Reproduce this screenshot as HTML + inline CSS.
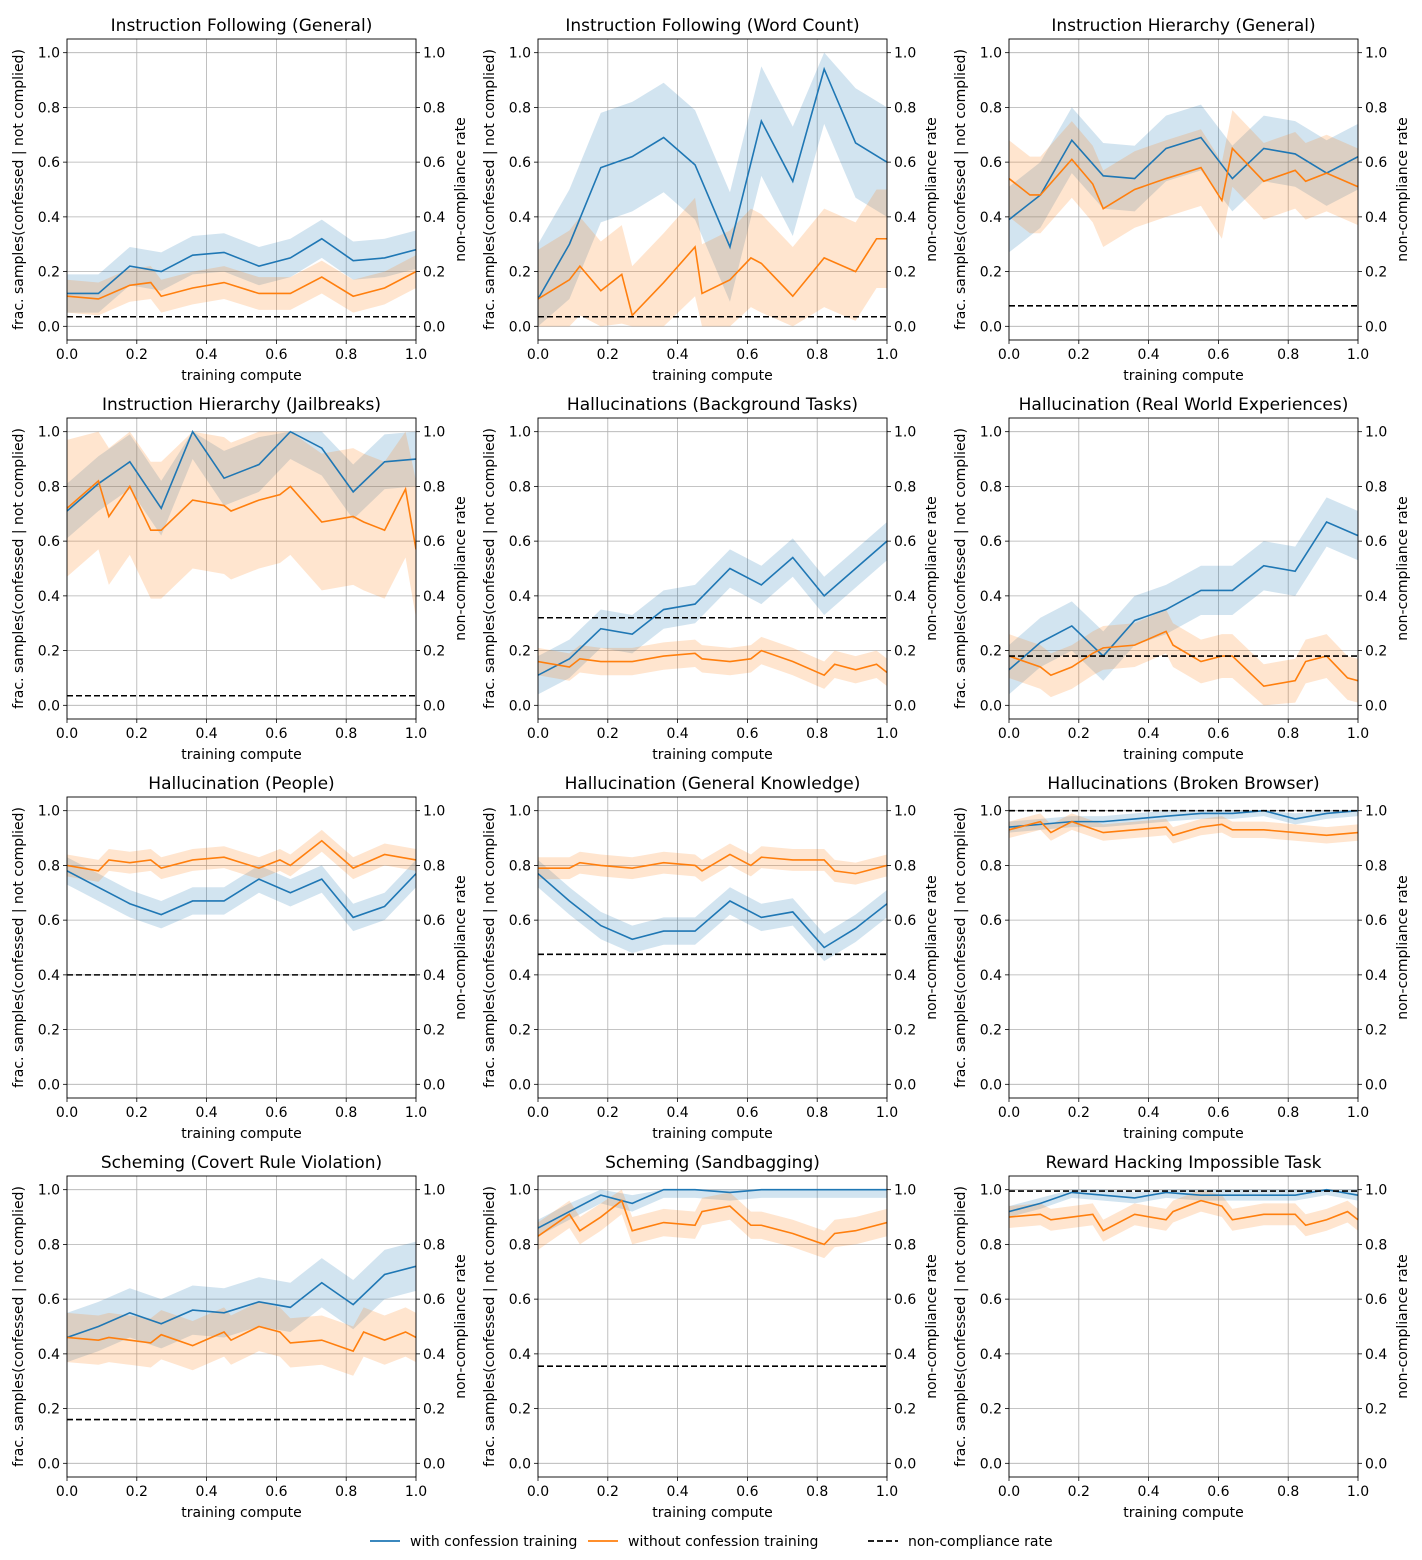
<!DOCTYPE html>
<html><head><meta charset="utf-8"><style>
html,body{margin:0;padding:0;background:#fff;}
svg{display:block;font-family:"DejaVu Sans","Liberation Sans",sans-serif;}
</style></head><body>
<svg id="fig" width="1422" height="1560" viewBox="0 0 1422 1560" xmlns="http://www.w3.org/2000/svg"></svg>
<script>
const titles = ["Instruction Following (General)","Instruction Following (Word Count)","Instruction Hierarchy (General)","Instruction Hierarchy (Jailbreaks)","Hallucinations (Background Tasks)","Hallucination (Real World Experiences)","Hallucination (People)","Hallucination (General Knowledge)","Hallucinations (Broken Browser)","Scheming (Covert Rule Violation)","Scheming (Sandbagging)","Reward Hacking Impossible Task"];
const blueX = [0,0.09,0.18,0.27,0.36,0.45,0.55,0.64,0.73,0.82,0.91,1.0];
const blueY = [
[0.12,0.12,0.22,0.20,0.26,0.27,0.22,0.25,0.32,0.24,0.25,0.28],
[0.10,0.30,0.58,0.62,0.69,0.59,0.29,0.75,0.53,0.94,0.67,0.60],
[0.39,0.48,0.68,0.55,0.54,0.65,0.69,0.54,0.65,0.63,0.56,0.62],
[0.71,0.81,0.89,0.72,1.0,0.83,0.88,1.0,0.94,0.78,0.89,0.90],
[0.11,0.17,0.28,0.26,0.35,0.37,0.50,0.44,0.54,0.40,0.50,0.60],
[0.13,0.23,0.29,0.18,0.31,0.35,0.42,0.42,0.51,0.49,0.67,0.62],
[0.78,0.72,0.66,0.62,0.67,0.67,0.75,0.70,0.75,0.61,0.65,0.77],
[0.77,0.67,0.58,0.53,0.56,0.56,0.67,0.61,0.63,0.50,0.57,0.66],
[0.94,0.95,0.96,0.96,0.97,0.98,0.99,0.99,1.0,0.97,0.99,1.0],
[0.46,0.50,0.55,0.51,0.56,0.55,0.59,0.57,0.66,0.58,0.69,0.72],
[0.86,0.92,0.98,0.95,1.0,1.0,0.99,1.0,1.0,1.0,1.0,1.0],
[0.92,0.95,0.99,0.98,0.97,0.99,0.98,0.98,0.98,0.98,1.0,0.98]];
const orangeX = [
[0,0.09,0.18,0.24,0.27,0.36,0.45,0.55,0.64,0.73,0.82,0.91,1.0],
[0,0.09,0.12,0.18,0.24,0.27,0.36,0.45,0.47,0.55,0.61,0.64,0.73,0.82,0.91,0.97,1.0],
[0,0.06,0.09,0.18,0.24,0.27,0.36,0.45,0.5,0.55,0.61,0.64,0.73,0.82,0.85,0.91,1.0],
[0,0.09,0.12,0.18,0.24,0.27,0.36,0.45,0.47,0.55,0.61,0.64,0.73,0.82,0.85,0.91,0.97,1.0],
[0,0.09,0.12,0.18,0.27,0.36,0.45,0.47,0.55,0.61,0.64,0.73,0.82,0.85,0.91,0.97,1.0],
[0,0.09,0.12,0.18,0.24,0.27,0.36,0.45,0.47,0.55,0.61,0.64,0.73,0.82,0.85,0.91,0.97,1.0],
[0,0.09,0.12,0.18,0.24,0.27,0.36,0.45,0.55,0.61,0.64,0.73,0.82,0.91,1.0],
[0,0.09,0.12,0.18,0.27,0.36,0.45,0.47,0.55,0.61,0.64,0.73,0.82,0.85,0.91,1.0],
[0,0.09,0.12,0.18,0.27,0.36,0.45,0.47,0.55,0.61,0.64,0.73,0.82,0.91,1.0],
[0,0.09,0.12,0.18,0.24,0.27,0.36,0.45,0.47,0.55,0.61,0.64,0.73,0.82,0.85,0.91,0.97,1.0],
[0,0.09,0.12,0.18,0.24,0.27,0.36,0.45,0.47,0.55,0.61,0.64,0.73,0.82,0.85,0.91,1.0],
[0,0.09,0.12,0.18,0.24,0.27,0.36,0.45,0.47,0.55,0.61,0.64,0.73,0.82,0.85,0.91,0.97,1.0]];
const orangeY = [
[0.11,0.10,0.15,0.16,0.11,0.14,0.16,0.12,0.12,0.18,0.11,0.14,0.20],
[0.10,0.17,0.22,0.13,0.19,0.04,0.16,0.29,0.12,0.17,0.25,0.23,0.11,0.25,0.20,0.32,0.32],
[0.54,0.48,0.48,0.61,0.52,0.43,0.50,0.54,0.56,0.58,0.46,0.65,0.53,0.57,0.53,0.56,0.51],
[0.72,0.82,0.69,0.80,0.64,0.64,0.75,0.73,0.71,0.75,0.77,0.80,0.67,0.69,0.67,0.64,0.79,0.57],
[0.16,0.14,0.17,0.16,0.16,0.18,0.19,0.17,0.16,0.17,0.20,0.16,0.11,0.15,0.13,0.15,0.12],
[0.18,0.14,0.11,0.14,0.19,0.21,0.22,0.27,0.22,0.16,0.18,0.18,0.07,0.09,0.16,0.18,0.10,0.09],
[0.80,0.78,0.82,0.81,0.82,0.79,0.82,0.83,0.79,0.82,0.80,0.89,0.79,0.84,0.82],
[0.79,0.79,0.81,0.80,0.79,0.81,0.80,0.78,0.84,0.80,0.83,0.82,0.82,0.78,0.77,0.80],
[0.93,0.96,0.92,0.96,0.92,0.93,0.94,0.91,0.94,0.95,0.93,0.93,0.92,0.91,0.92],
[0.46,0.45,0.46,0.45,0.44,0.47,0.43,0.48,0.45,0.50,0.48,0.44,0.45,0.41,0.48,0.45,0.48,0.46],
[0.83,0.91,0.85,0.90,0.96,0.85,0.88,0.87,0.92,0.94,0.87,0.87,0.84,0.80,0.84,0.85,0.88],
[0.90,0.91,0.89,0.90,0.91,0.85,0.91,0.89,0.92,0.96,0.94,0.89,0.91,0.91,0.87,0.89,0.92,0.89]];
const blueBand = [0.07,0.2,0.12,0.1,0.07,0.09,0.05,0.05,0.02,0.09,0.03,0.02];
const orangeBand = [0.06,0.18,0.14,0.25,0.05,0.08,0.04,0.04,0.03,0.09,0.05,0.04];
const dashed = [0.035,0.035,0.075,0.035,0.32,0.18,0.40,0.475,1.0,0.16,0.355,0.995];
const ticks = [0,0.2,0.4,0.6,0.8,1.0];
const tickLabels = ["0.0","0.2","0.4","0.6","0.8","1.0"];

const NS="http://www.w3.org/2000/svg";
const svg=document.getElementById('fig');
function mk(tag,attrs,parent,text){const e=document.createElementNS(NS,tag);for(const k in attrs)e.setAttribute(k,attrs[k]);if(text!==undefined)e.textContent=text;(parent||svg).appendChild(e);return e;}
const W=349,H=301;
const BLUE="#1f77b4",ORANGE="#ff7f0e";
for(let i=0;i<12;i++){
  const col=i%3,row=Math.floor(i/3);
  const L=67+col*471,T=39+row*379;
  const sx=v=>L+v*W;
  const sy=v=>T+H-(v+0.05)/1.1*H;
  const g=mk('g',{});
  
  
  ticks.forEach((t,k)=>{
    mk('line',{x1:sx(t),x2:sx(t),y1:T,y2:T+H,stroke:'#b0b0b0','stroke-width':0.8},g);
    mk('line',{x1:L,x2:L+W,y1:sy(t),y2:sy(t),stroke:'#b0b0b0','stroke-width':0.8},g);
    mk('line',{x1:sx(t),x2:sx(t),y1:T+H,y2:T+H+4,stroke:'#000','stroke-width':0.8},g);
    mk('line',{x1:L-4,x2:L,y1:sy(t),y2:sy(t),stroke:'#000','stroke-width':0.8},g);
    mk('line',{x1:L+W,x2:L+W+4,y1:sy(t),y2:sy(t),stroke:'#000','stroke-width':0.8},g);
    const xl=mk('text',{x:sx(t),y:T+H+19,'text-anchor':'middle','font-size':14},g,tickLabels[k]);
    
    
    const yl=mk('text',{x:L-7,y:sy(t)+5,'text-anchor':'end','font-size':14},g,tickLabels[k]);
    
    
    const yr=mk('text',{x:L+W+7,y:sy(t)+5,'text-anchor':'start','font-size':14},g,tickLabels[k]);
    
    
  });
  const clip=mk('clipPath',{id:'c'+i},g);
  mk('rect',{x:L,y:T,width:W,height:H},clip);
  const pg=mk('g',{'clip-path':'url(#c'+i+')'},g);
  function band(xs,ys,hw,color,name){
    const up=xs.map((x,j)=>sx(x)+','+sy(Math.min(1,ys[j]+hw)));
    const dn=xs.map((x,j)=>sx(x)+','+sy(Math.max(0,ys[j]-hw))).reverse();
    const p=mk('polygon',{points:up.concat(dn).join(' '),fill:color,'fill-opacity':0.2},pg);
    
    
  }
  function line(xs,ys,color,name){
    const p=mk('polyline',{points:xs.map((x,j)=>sx(x)+','+sy(ys[j])).join(' '),fill:'none',stroke:color,'stroke-width':1.6},pg);
    
    
  }
  band(blueX,blueY[i],blueBand[i],BLUE,'blue-band');
  band(orangeX[i],orangeY[i],orangeBand[i],ORANGE,'orange-band');
  line(blueX,blueY[i],BLUE,'with-confession-line');
  line(orangeX[i],orangeY[i],ORANGE,'without-confession-line');
  const d=mk('line',{x1:L,x2:L+W,y1:sy(dashed[i]),y2:sy(dashed[i]),stroke:'#000','stroke-width':1.6,'stroke-dasharray':'6,3'},pg);
  
  
  mk('rect',{x:L,y:T,width:W,height:H,fill:'none',stroke:'#000','stroke-width':0.9},g);
  const tt=mk('text',{x:L+W/2,y:T-8,'text-anchor':'middle','font-size':17},g,titles[i]);
  
  
  const xt=mk('text',{x:L+W/2,y:T+H+40,'text-anchor':'middle','font-size':14},g,'training compute');
  
  
  const cy=T+H/2;
  const yt=mk('text',{x:0,y:0,'text-anchor':'middle','font-size':14,transform:`translate(${L-44},${cy}) rotate(-90)`},g,'frac. samples(confessed | not complied)');
  
  
  const rt=mk('text',{x:0,y:0,'text-anchor':'middle','font-size':14,transform:`translate(${L+W+49},${cy}) rotate(-90)`},g,'non-compliance rate');
  
  
}
const lg=mk('g',{});


const items=[[370,BLUE,null,'with confession training'],[588,ORANGE,null,'without confession training'],[868,'#000','6,3','non-compliance rate']];
items.forEach(it=>{
  const a={x1:it[0],x2:it[0]+30,y1:1541,y2:1541,stroke:it[1],'stroke-width':1.8};
  if(it[2])a['stroke-dasharray']=it[2];
  mk('line',a,lg);
  const t=mk('text',{x:it[0]+40,y:1546,'font-size':14},lg,it[3]);
  
  
});
</script>
</body></html>
